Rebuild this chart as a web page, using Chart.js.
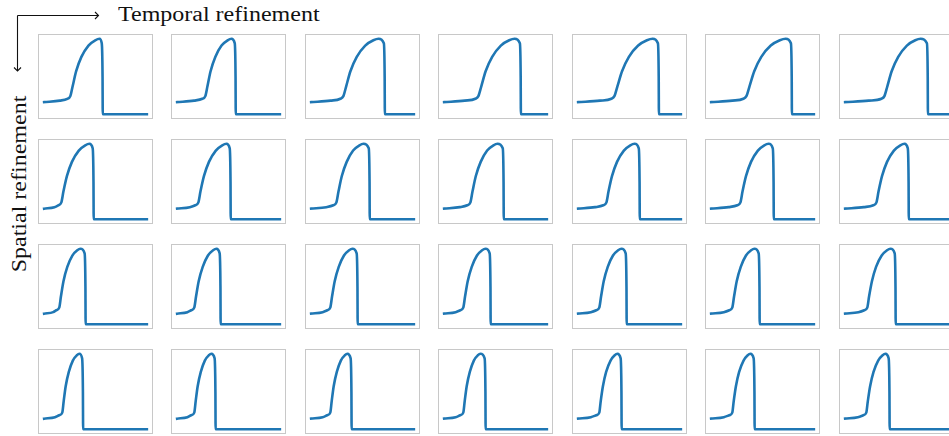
<!DOCTYPE html>
<html>
<head>
<meta charset="utf-8">
<script src="https://cdn.jsdelivr.net/npm/chart.js@4.4.1/dist/chart.umd.min.js"></script>
<style>
  html, body { margin: 0; padding: 0; background: #fff; overflow: hidden; width: 949px; height: 436px; }
  #stage { position: relative; width: 949px; height: 436px; overflow: hidden; }
  .panel { position: absolute; width: 113px; height: 83px; border: 1px solid #c8c8c8; box-sizing: content-box; }
  .panel canvas { display: block; }
  .label { position: absolute; font-family: "Liberation Serif", "Times New Roman", serif; font-size: 20px;
           line-height: 20px; white-space: nowrap; color: #111; }
  #arrows { position: absolute; left: 0; top: 0; }
</style>
</head>
<body>
<div id="stage">
  <svg id="arrows" width="120" height="80">
    <g fill="none" stroke="#111" stroke-width="1.1">
      <path d="M17.5,15.5 H98.5"/>
      <path d="M95,12 L98.5,15.5 L95,19"/>
      <path d="M17.5,15.5 V71"/>
      <path d="M14,67.5 L17.5,71 L21,67.5"/>
    </g>
  </svg>
  <div class="label" style="left:118px; top:4px; transform-origin:0 0; transform:scaleX(1.2);">Temporal refinement</div>
  <div class="label" style="left:19px; top:184px; transform:translate(-50%,-50%) rotate(-90deg) scaleX(1.2);">Spatial refinement</div>
</div>
<script>
// Potential levels sampled along each wave profile (normalised units).
const levelsCoarse = [0.16, 0.18, 0.205, 0.24, 0.37, 0.57, 0.76, 0.91, 0.98, 1.0, 0.94, 0.5, 0.0, 0.0];
const levelsFine   = [0.14, 0.16, 0.185, 0.22, 0.37, 0.57, 0.76, 0.91, 0.98, 1.0, 0.94, 0.5, 0.0, 0.0];

// Positions of those samples, one array per time-step refinement.
const positionsRow1 = [
  [0, 15.6, 23, 26, 28.3, 31.8, 37.0, 44.0, 50.7, 55, 57.2, 58, 58.2, 102],
  [0, 16.8, 25, 28, 30.1, 33.2, 37.9, 44.1, 50.1, 54, 57.2, 58, 58.2, 102],
  [0, 19.2, 29, 32, 34.8, 39.0, 45.3, 53.7, 61.8, 67, 72.2, 73, 73.2, 102],
  [0, 20.4, 31, 34, 36.9, 41.2, 47.7, 56.3, 64.6, 70, 75.2, 76, 76.2, 102],
  [0, 21.6, 33, 36, 39.0, 43.6, 50.4, 59.6, 68.3, 74, 79.2, 80, 80.2, 102],
  [0, 21.0, 32, 35, 38.1, 42.8, 49.8, 59.2, 68.2, 74, 79.2, 80, 80.2, 102],
  [0, 23.4, 36, 39, 41.9, 46.2, 52.7, 61.3, 69.6, 75, 81.2, 82, 82.2, 102]
];
const positionsRow2 = [
  [0, 10.2, 14, 17, 19.2, 22.6, 27.6, 34.4, 40.8, 45, 48.2, 49, 49.2, 102],
  [0, 12.6, 18, 21, 23.2, 26.6, 31.6, 38.4, 44.8, 49, 52.2, 53, 53.2, 102],
  [0, 15.0, 22, 25, 27.2, 30.4, 35.3, 41.7, 48.0, 52, 57.2, 58, 58.2, 102],
  [0, 15.6, 23, 26, 28.2, 31.4, 36.3, 42.7, 49.0, 53, 58.2, 59, 59.2, 102],
  [0, 16.8, 25, 28, 30.2, 33.6, 38.6, 45.4, 51.8, 56, 60.2, 61, 61.2, 102],
  [0, 17.4, 26, 29, 31.2, 34.6, 39.6, 46.4, 52.8, 57, 61.2, 62, 62.2, 102],
  [0, 18.6, 28, 31, 33.2, 36.6, 41.6, 48.4, 54.8, 59, 62.2, 63, 63.2, 102]
];
const positionsRow3 = [
  [0,  9.0, 12, 15, 16.7, 19.2, 23.0, 28.0, 32.9, 36, 40.2, 41, 41.2, 102],
  [0, 10.2, 14, 17, 18.8, 21.4, 25.4, 30.6, 35.7, 39, 42.2, 43, 43.2, 102],
  [0, 11.4, 16, 19, 20.8, 23.4, 27.4, 32.6, 37.7, 41, 45.2, 46, 46.2, 102],
  [0, 11.4, 16, 19, 20.8, 23.4, 27.4, 32.6, 37.7, 41, 45.2, 46, 46.2, 102],
  [0, 12.6, 18, 21, 22.8, 25.4, 29.4, 34.6, 39.7, 43, 47.2, 48, 48.2, 102],
  [0, 12.6, 18, 21, 22.8, 25.4, 29.4, 34.6, 39.7, 43, 47.2, 48, 48.2, 102],
  [0, 13.2, 19, 22, 23.8, 26.6, 30.7, 36.3, 41.6, 45, 49.2, 50, 50.2, 102]
];
const positionsRow4 = [
  [0, 10.8, 15, 18, 19.4, 21.4, 24.5, 28.5, 32.5, 35, 37.7, 38.5, 38.7, 102],
  [0, 10.2, 14, 17, 18.4, 20.4, 23.5, 27.5, 31.5, 34, 37.2, 38, 38.2, 102],
  [0, 11.4, 16, 19, 20.4, 22.4, 25.5, 29.5, 33.5, 36, 39.2, 40, 40.2, 102],
  [0, 11.4, 16, 19, 20.4, 22.4, 25.5, 29.5, 33.5, 36, 40.2, 41, 41.2, 102],
  [0, 12.6, 18, 21, 22.4, 24.6, 27.8, 32.2, 36.3, 39, 42.2, 43, 43.2, 102],
  [0, 12.6, 18, 21, 22.4, 24.6, 27.8, 32.2, 36.3, 39, 42.2, 43, 43.2, 102],
  [0, 12.6, 18, 21, 22.5, 24.8, 28.2, 32.8, 37.2, 40, 43.2, 44, 44.2, 102]
];

const rows = [
  { positions: positionsRow1, levels: levelsCoarse },
  { positions: positionsRow2, levels: levelsFine },
  { positions: positionsRow3, levels: levelsFine },
  { positions: positionsRow4, levels: levelsFine }
];

// Grid layout of the small multiples.
const panelTops = [34, 139, 244, 349];
const firstLeft = 37.5, colStep = 133.5;
const innerW = 113, innerH = 83;

const stage = document.getElementById('stage');

rows.forEach((row, r) => {
  row.positions.forEach((xs, c) => {
    const box = document.createElement('div');
    box.className = 'panel';
    box.style.left = Math.round(firstLeft + colStep * c) + 'px';
    box.style.top = panelTops[r] + 'px';
    const canvas = document.createElement('canvas');
    canvas.width = innerW; canvas.height = innerH;
    canvas.style.width = innerW + 'px'; canvas.style.height = innerH + 'px';
    box.appendChild(canvas);
    stage.appendChild(box);

    const points = xs.map((x, i) => ({ x: x, y: row.levels[i] }));
    new Chart(canvas.getContext('2d'), {
      type: 'line',
      data: {
        datasets: [{
          data: points,
          borderColor: '#1f77b4',
          borderWidth: 2.6,
          borderCapStyle: 'square',
          borderJoinStyle: 'round',
          pointRadius: 0,
          fill: false,
          cubicInterpolationMode: 'monotone'
        }]
      },
      options: {
        responsive: false,
        animation: false,
        events: [],
        layout: { padding: 0 },
        plugins: { legend: { display: false }, tooltip: { enabled: false } },
        scales: {
          x: { type: 'linear', min: -5.1, max: 107.1, display: false },
          y: { type: 'linear', min: -0.05, max: 1.05, display: false }
        }
      }
    });
  });
});
</script>
</body>
</html>
